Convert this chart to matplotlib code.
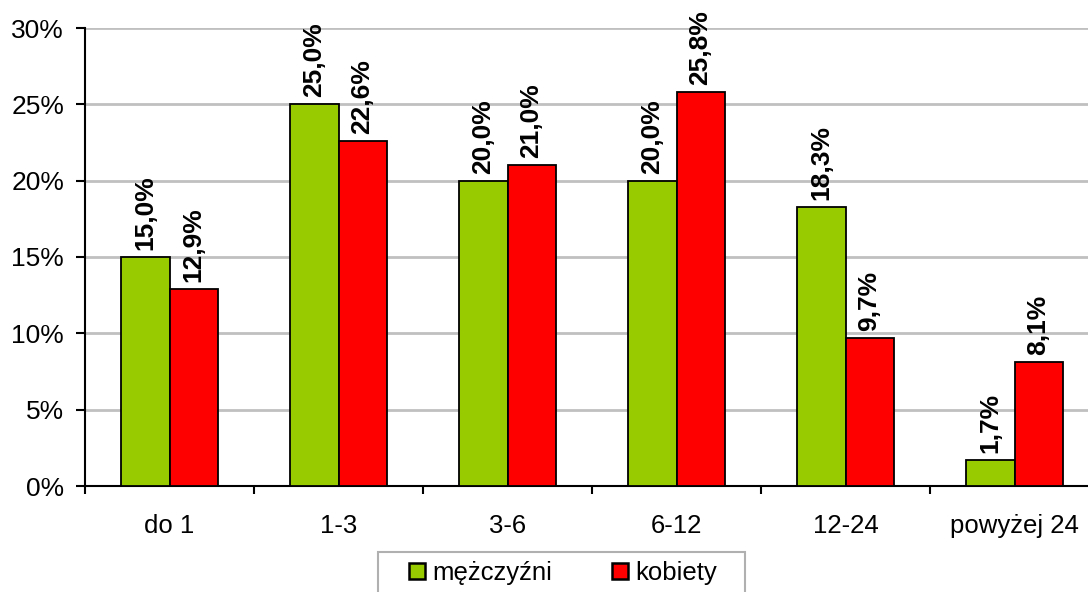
import matplotlib.pyplot as plt
from matplotlib.patches import Patch, Rectangle
import numpy as np

categories = ['do 1', '1-3', '3-6', '6-12', '12-24', 'powyżej 24']
men = [15.0, 25.0, 20.0, 20.0, 18.3, 1.7]
women = [12.9, 22.6, 21.0, 25.8, 9.7, 8.1]
series_names = ['mężczyźni', 'kobiety']
yticks = [0, 5, 10, 15, 20, 25, 30]

plt.rcParams['font.family'] = ['Liberation Sans', 'DejaVu Sans']

W, H = 1088, 592
fig = plt.figure(figsize=(W / 100, H / 100), dpi=100)
ax = fig.add_axes([85 / W, 1 - 486 / H, 1014 / W, 458 / H])

x = np.arange(len(categories)) + 0.5
w = 0.285
green = '#99CC00'
red = '#FF0000'

b1 = ax.bar(x - w / 2, men, w, color=green, edgecolor='black', linewidth=1.3, zorder=3)
b2 = ax.bar(x + w / 2, women, w, color=red, edgecolor='black', linewidth=1.3, zorder=3)

for bars, vals in ((b1, men), (b2, women)):
    for rect, v in zip(bars, vals):
        ax.annotate(f'{v:.1f}%'.replace('.', ','),
                    (rect.get_x() + rect.get_width() / 2, rect.get_height()),
                    xytext=(0, 5), textcoords='offset points',
                    rotation=90, ha='center', va='bottom',
                    fontsize=19, fontweight='bold', zorder=4)

ax.set_xlim(0, len(categories))
ax.set_ylim(0, 30)
ax.set_yticks(yticks)
ax.set_yticklabels([f'{t}%' for t in yticks], fontsize=19)
ax.yaxis.grid(True, color='#c0c0c0', linewidth=2, zorder=0)
ax.tick_params(axis='y', length=6.5, width=1.5, pad=8.5)

ax.set_xticks(np.arange(len(categories) + 1))
ax.set_xticklabels([])
ax.set_xticks(x, minor=True)
ax.set_xticklabels(categories, minor=True, fontsize=18.5)
ax.tick_params(axis='x', which='major', length=6, width=1.5)
ax.tick_params(axis='x', which='minor', length=0, pad=20)

for s in ('top', 'right'):
    ax.spines[s].set_visible(False)
for s in ('left', 'bottom'):
    ax.spines[s].set_linewidth(1.5)
ax.set_axisbelow(True)

# legend: frameless entries plus a separate box that runs off the bottom edge
handles = [Patch(facecolor=green, edgecolor='black', linewidth=1.8),
           Patch(facecolor=red, edgecolor='black', linewidth=1.8)]
fig.legend(handles, series_names, loc='center',
           bbox_to_anchor=(563 / W, 1 - 573 / H), ncol=2,
           fontsize=18.5, frameon=False,
           handlelength=0.62, handleheight=0.62,
           handletextpad=0.3, columnspacing=2.3, borderpad=0, borderaxespad=0)
fig.patches.append(Rectangle((378 / W, -0.05), 367 / W, 0.05 + 40 / H,
                             transform=fig.transFigure, fill=False,
                             edgecolor='#b0b0b0', linewidth=1.5))

fig.savefig('out.png', dpi=100)
